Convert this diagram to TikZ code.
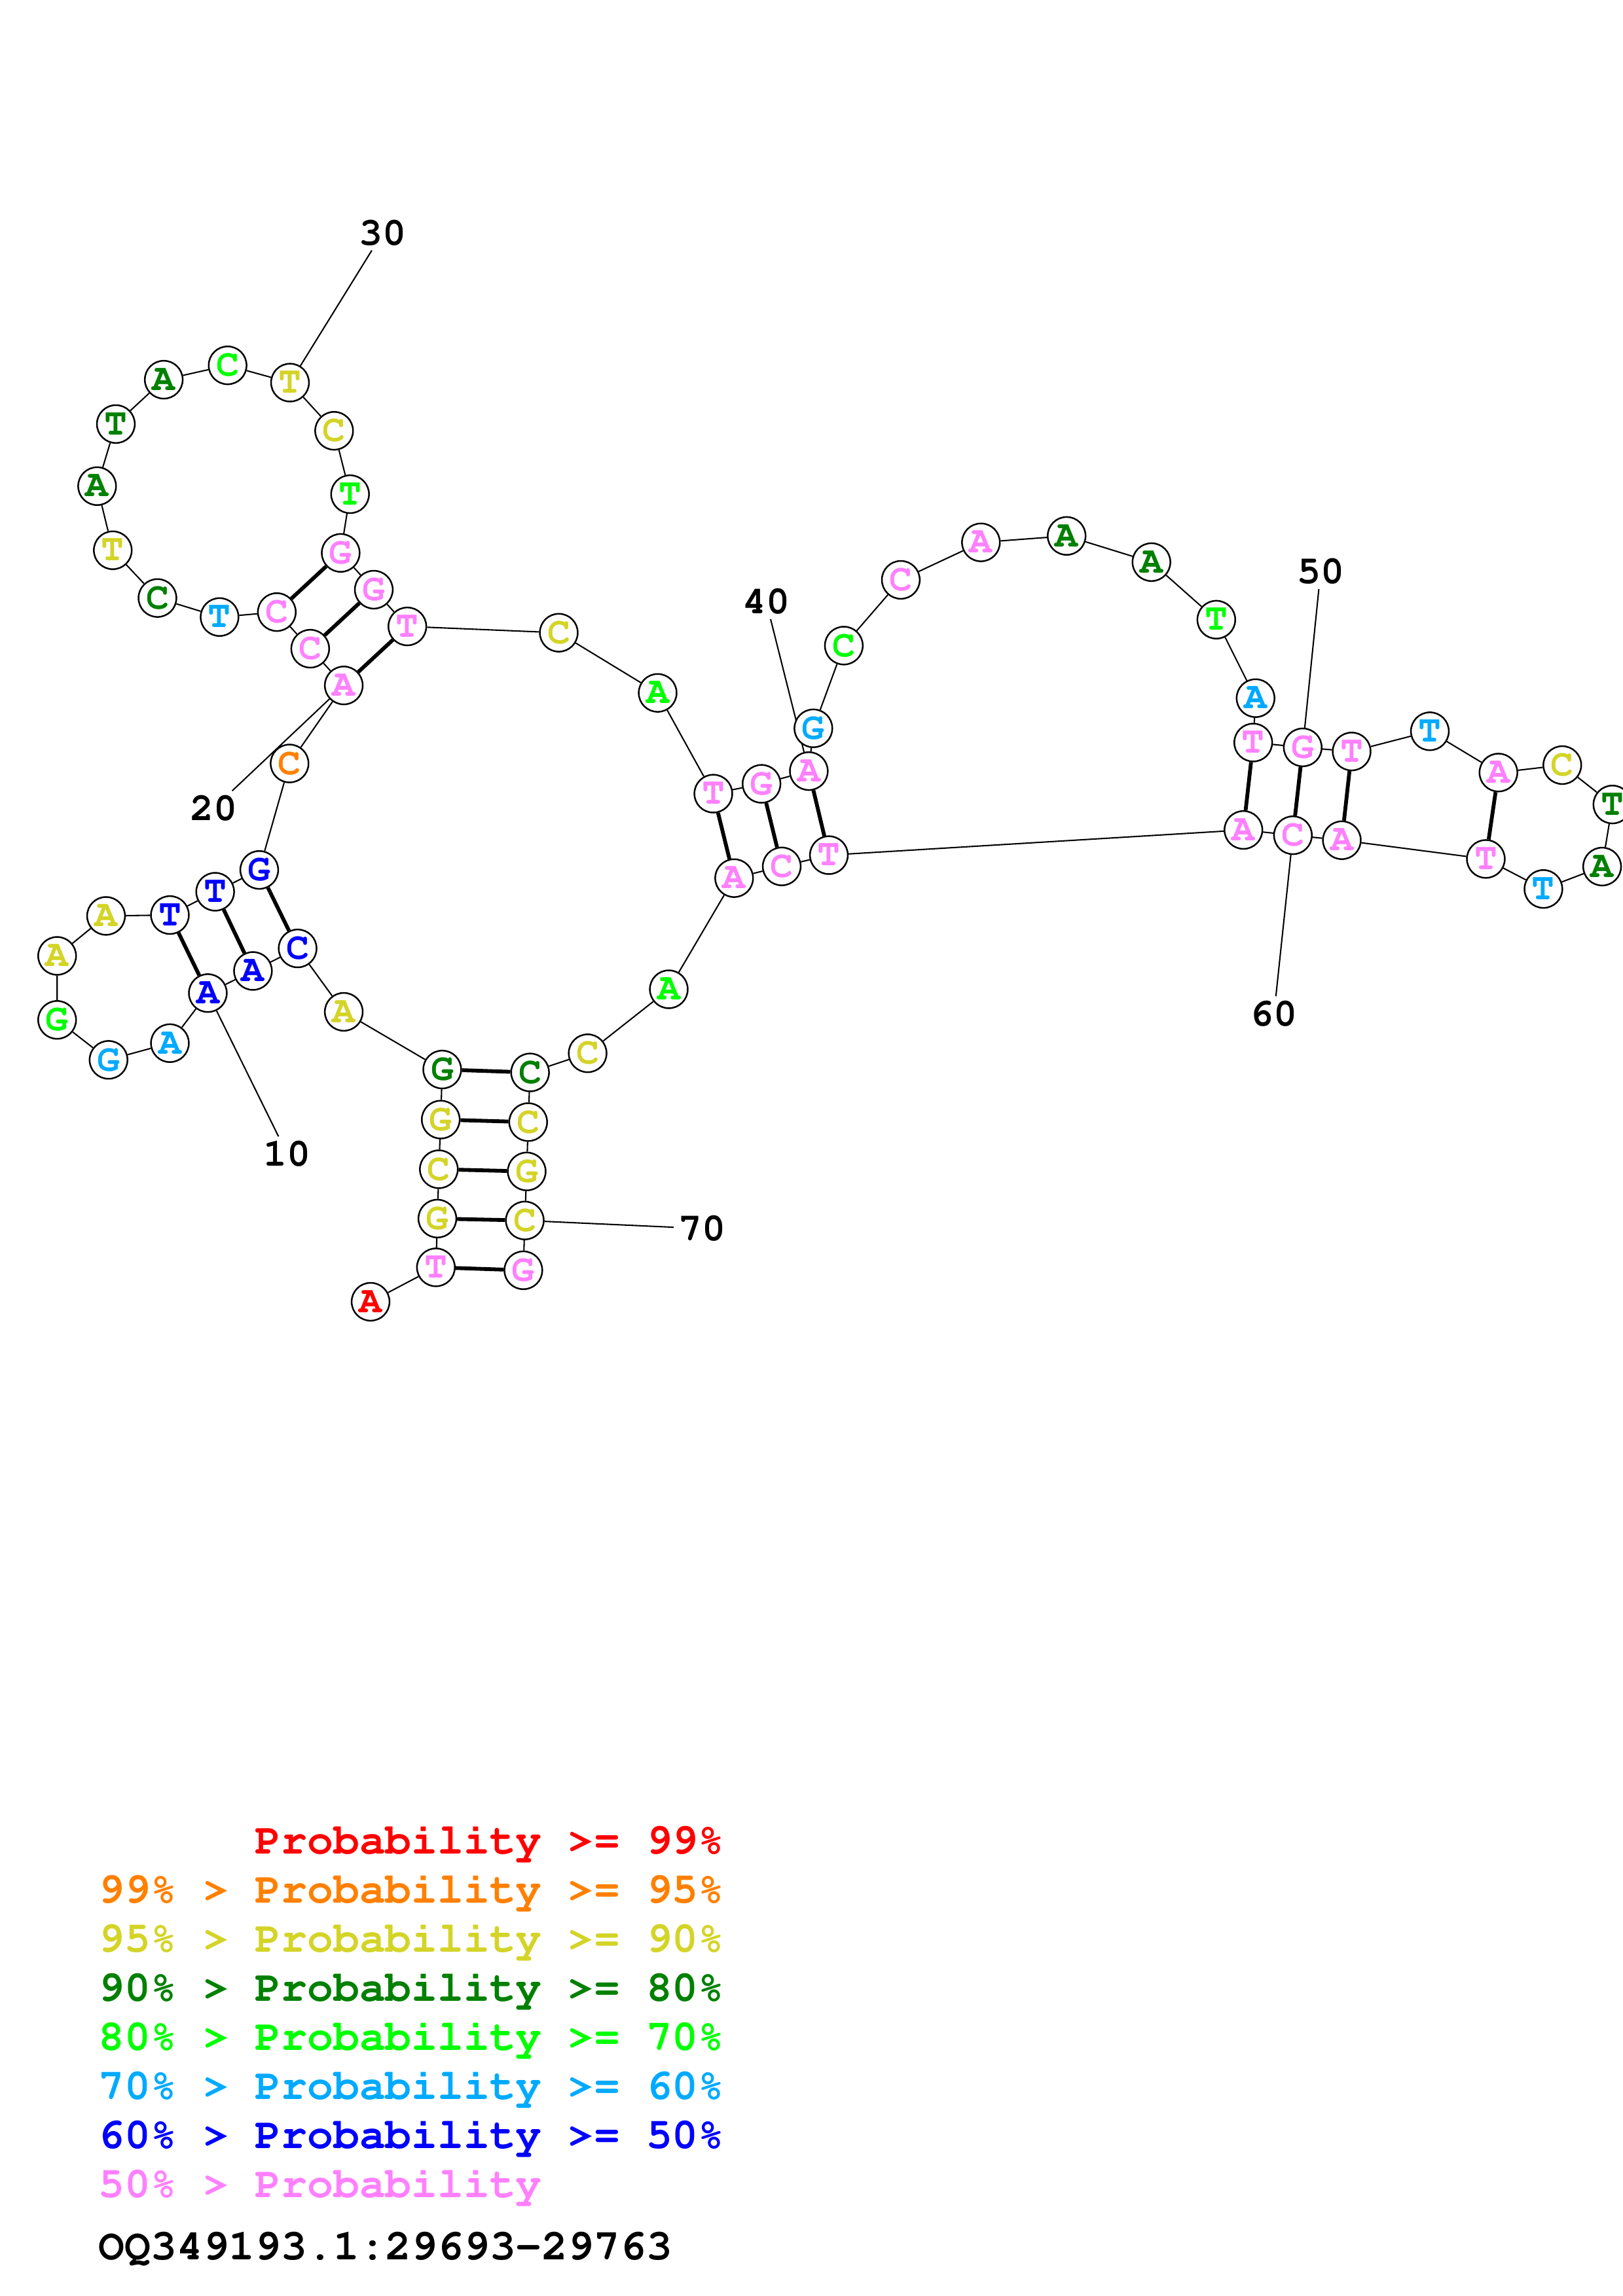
\documentclass[tikz,border=0pt]{standalone}
\usepackage[T1]{fontenc}
\usepackage{courier}
\usetikzlibrary{backgrounds}
\definecolor{prob99}{RGB}{255,0,0}
\definecolor{prob95}{RGB}{255,128,0}
\definecolor{prob90}{RGB}{212,212,40}
\definecolor{prob80}{RGB}{0,128,0}
\definecolor{prob70}{RGB}{0,255,0}
\definecolor{prob60}{RGB}{0,170,255}
\definecolor{prob50}{RGB}{0,0,255}
\definecolor{problow}{RGB}{255,128,255}
\begin{document}
\begin{tikzpicture}[x=0.18953mm, y=-0.18953mm,
    nt/.style={circle, draw, fill=white, line width=0.6pt, minimum size=4.9mm, inner sep=0pt, font=\ttfamily\bfseries\fontsize{14}{14}\selectfont},
    p99/.style={nt, text=prob99}, p95/.style={nt, text=prob95}, p90/.style={nt, text=prob90},
    p80/.style={nt, text=prob80}, p70/.style={nt, text=prob70}, p60/.style={nt, text=prob60},
    p50/.style={nt, text=prob50}, plo/.style={nt, text=problow},
    num/.style={inner sep=1.5pt, font=\ttfamily\bfseries\fontsize{14.5}{14.5}\selectfont},
    leg/.style={anchor=base west, inner sep=0pt, font=\ttfamily\bfseries\fontsize{16}{16}\selectfont},
    bb/.style={line width=0.5pt},
    bp/.style={every edge/.style={draw, line width=1.4pt}}]
    \path[use as bounding box] (0,0) rectangle (1108,1568);

    % bases 1-71
    \node[p99] (1) at (253,889) {A};
    \node[plo] (2) at (297.6,865.5) {T};
    \node[p90] (3) at (298.6,832.2) {G};
    \node[p90] (4) at (299.6,798.5) {C};
    \node[p90] (5) at (300.9,764.6) {G};
    \node[p80] (6) at (301.9,730.4) {G};
    \node[p90] (7) at (234.7,691) {A};
    \node[p50] (8) at (203.2,647.7) {C};
    \node[p50] (9) at (172.7,663.1) {A};
    \node[p50] (10) at (141.9,678.2) {A};
    \node[p60] (11) at (116,712.4) {A};
    \node[p60] (12) at (74.1,723.8) {G};
    \node[p70] (13) at (39,696.5) {G};
    \node[p90] (14) at (39,652.8) {A};
    \node[p90] (15) at (72.4,625.5) {A};
    \node[p50] (16) at (116,624.9) {T};
    \node[p50] (17) at (146.9,609) {T};
    \node[p50] (18) at (177,594.1) {G};
    \node[p95] (19) at (197.7,521.4) {C};
    \node[plo] (20) at (234.7,468.1) {A};
    \node[plo] (21) at (211.8,443) {C};
    \node[plo] (22) at (189,418) {C};
    \node[p60] (23) at (149.9,421.4) {T};
    \node[p80] (24) at (107.5,408.4) {C};
    \node[p90] (25) at (77,375.8) {T};
    \node[p80] (26) at (66.3,332) {A};
    \node[p80] (27) at (79.1,289.6) {T};
    \node[p80] (28) at (111.8,259.3) {A};
    \node[p70] (29) at (155.4,249.5) {C};
    \node[p90] (30) at (198,261.3) {T};
    \node[p90] (31) at (228.1,294.2) {C};
    \node[p70] (32) at (239,337.5) {T};
    \node[plo] (33) at (232.6,377.6) {G};
    \node[plo] (34) at (255.2,402.7) {G};
    \node[plo] (35) at (278.1,427.8) {T};
    \node[p90] (36) at (381.5,432.1) {C};
    \node[p70] (37) at (449,473.2) {A};
    \node[plo] (38) at (487,542) {T};
    \node[plo] (39) at (519.9,535.3) {G};
    \node[plo] (40) at (552.2,526.6) {A};
    \node[p60] (41) at (555.3,497.4) {G};
    \node[p70] (42) at (576.1,440.9) {C};
    \node[plo] (43) at (615,396) {C};
    \node[plo] (44) at (669.7,370.4) {A};
    \node[p80] (45) at (728.2,366) {A};
    \node[p80] (46) at (786.1,383.9) {A};
    \node[p70] (47) at (830.4,423.2) {T};
    \node[p60] (48) at (857.2,476.8) {A};
    \node[plo] (49) at (855.6,507.1) {T};
    \node[plo] (50) at (889.4,510.4) {G};
    \node[plo] (51) at (922.8,513.2) {T};
    \node[p60] (52) at (976.2,499.4) {T};
    \node[plo] (53) at (1023,527.6) {A};
    \node[p90] (54) at (1066.6,522.5) {C};
    \node[p80] (55) at (1100.8,549.4) {T};
    \node[p80] (56) at (1093.8,591.8) {A};
    \node[p60] (57) at (1053.7,607.1) {T};
    \node[plo] (58) at (1014.4,586.6) {T};
    \node[plo] (59) at (916.1,573.8) {A};
    \node[plo] (60) at (882.7,570.4) {C};
    \node[plo] (61) at (848.9,566.8) {A};
    \node[plo] (62) at (565.9,584) {T};
    \node[plo] (63) at (533.7,591.7) {C};
    \node[plo] (64) at (501.2,599.7) {A};
    \node[p70] (65) at (456.6,675.6) {A};
    \node[p90] (66) at (401.2,719.3) {C};
    \node[p80] (67) at (361.9,732.4) {C};
    \node[p90] (68) at (360.6,766.3) {C};
    \node[p90] (69) at (359.6,800) {G};
    \node[p90] (70) at (358.3,833.5) {C};
    \node[plo] (71) at (357.3,867.5) {G};

    % position numbers
    \node[num] (n10) at (196,788) {10};
    \node[num] (n20) at (145.9,552) {20};
    \node[num] (n30) at (261.2,159.1) {30};
    \node[num] (n40) at (523.1,410.9) {40};
    \node[num] (n50) at (901.6,390.4) {50};
    \node[num] (n60) at (869.8,692.3) {60};
    \node[num] (n70) at (479.2,839) {70};

    \begin{pgfonlayer}{background}
    \draw[bb] (1) -- (2) -- (3) -- (4) -- (5) -- (6) -- (7) -- (8) -- (9) -- (10)
        -- (11) -- (12) -- (13) -- (14) -- (15) -- (16) -- (17) -- (18) -- (19) -- (20)
        -- (21) -- (22) -- (23) -- (24) -- (25) -- (26) -- (27) -- (28) -- (29) -- (30)
        -- (31) -- (32) -- (33) -- (34) -- (35) -- (36) -- (37) -- (38) -- (39) -- (40)
        -- (41) -- (42) -- (43) -- (44) -- (45) -- (46) -- (47) -- (48) -- (49) -- (50)
        -- (51) -- (52) -- (53) -- (54) -- (55) -- (56) -- (57) -- (58) -- (59) -- (60)
        -- (61) -- (62) -- (63) -- (64) -- (65) -- (66) -- (67) -- (68) -- (69) -- (70)
        -- (71);
    \path[bp] (2) edge (71) (3) edge (70) (4) edge (69) (5) edge (68) (6) edge (67)
        (8) edge (18) (9) edge (17) (10) edge (16)
        (20) edge (35) (21) edge (34) (22) edge (33)
        (38) edge (64) (39) edge (63) (40) edge (62)
        (49) edge (61) (50) edge (60) (51) edge (59) (53) edge (58);
    \path[bb, every edge/.style={draw, line width=0.5pt}]
        (n10) edge (10) (n20) edge (20) (n30) edge (30) (n40) edge (40)
        (n50) edge (50) (n60) edge (60) (n70) edge (70);
    \end{pgfonlayer}

    % legend
    \node[leg, text=prob99] (l99) at (67,1266) {\phantom{99\% > }Probability >= 99\%};
    \node[leg, text=prob95] (l95) at (67,1299.5) {99\% > Probability >= 95\%};
    \node[leg, text=prob90] (l90) at (67,1333) {95\% > Probability >= 90\%};
    \node[leg, text=prob80] (l80) at (67,1366.5) {90\% > Probability >= 80\%};
    \node[leg, text=prob70] (l70) at (67,1400) {80\% > Probability >= 70\%};
    \node[leg, text=prob60] (l60) at (67,1433.5) {70\% > Probability >= 60\%};
    \node[leg, text=prob50] (l50) at (67,1467) {60\% > Probability >= 50\%};
    \node[leg, text=problow] (llo) at (67,1500.5) {50\% > Probability};
    \node[leg] (name) at (67,1543) {OQ349193.1:29693-29763};
\end{tikzpicture}
\end{document}
